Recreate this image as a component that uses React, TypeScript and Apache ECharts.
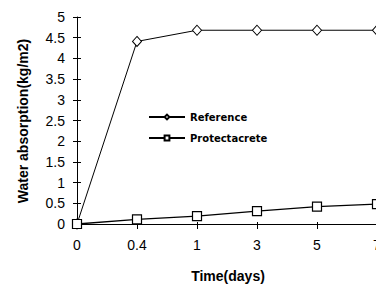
import React, { useEffect, useRef } from "react";
import * as echarts from "echarts";

const categories = ["0", "0.4", "1", "3", "5", "7"];
const referenceValues = [0, 4.41, 4.68, 4.68, 4.68, 4.68];
const protectacreteValues = [0, 0.11, 0.19, 0.31, 0.42, 0.48];
const seriesNames = ["Reference", "Protectacrete"];
const xTitle = "Time(days)";
const yTitle = "Water absorption(kg/m2)";

export default function App() {
  const ref = useRef<HTMLDivElement>(null);
  useEffect(() => {
    const chart = echarts.init(ref.current!, null, { renderer: "svg" });
    const font = "Liberation Sans, Arial, sans-serif";
    const axisLineStyle = { color: "#000", width: 1 };
    chart.setOption({
      animation: false,
      backgroundColor: "#fff",
      grid: { left: 77, top: 17, bottom: 61, right: -1, containLabel: false, outerBoundsMode: "none" },
      legend: {
        orient: "vertical",
        left: 143,
        top: 107,
        itemWidth: 36,
        itemHeight: 6,
        itemGap: 11,
        data: seriesNames,
        textStyle: { fontFamily: "DejaVu Sans", fontWeight: "bold", fontSize: 10, color: "#000" },
      },
      xAxis: [
        {
          type: "category",
          data: categories,
          boundaryGap: false,
          axisLine: { lineStyle: axisLineStyle },
          axisTick: { show: true, length: 5, lineStyle: axisLineStyle, alignWithLabel: true },
          axisLabel: { color: "#000", fontSize: 14, fontFamily: font, margin: 14 },
          splitLine: { show: false },
        },
        {
          type: "category",
          data: categories,
          boundaryGap: false,
          position: "bottom",
          axisLine: { show: false },
          axisTick: { show: true, inside: true, length: 2, lineStyle: axisLineStyle },
          axisLabel: { show: false },
          splitLine: { show: false },
        },
      ],
      yAxis: [
        {
          type: "value",
          min: 0,
          max: 5,
          interval: 0.5,
          axisLine: { show: true, lineStyle: axisLineStyle },
          axisTick: { show: true, length: 4, lineStyle: axisLineStyle },
          axisLabel: { color: "#000", fontSize: 14, fontFamily: font, margin: 12 },
          splitLine: { show: false },
        },
        {
          type: "value",
          min: 0,
          max: 5,
          interval: 0.5,
          position: "left",
          axisLine: { show: false },
          axisTick: { show: true, inside: true, length: 4, lineStyle: axisLineStyle },
          axisLabel: { show: false },
          splitLine: { show: false },
        },
      ],
      series: [
        {
          name: seriesNames[0],
          type: "line",
          data: referenceValues,
          xAxisIndex: 0,
          yAxisIndex: 0,
          symbol: "diamond",
          symbolSize: [9, 10],
          itemStyle: { color: "#fff", borderColor: "#000", borderWidth: 1 },
          lineStyle: { color: "#000", width: 1 },
          z: 3,
        },
        {
          name: seriesNames[1],
          type: "line",
          data: protectacreteValues,
          xAxisIndex: 0,
          yAxisIndex: 0,
          symbol: "rect",
          symbolSize: 9,
          itemStyle: { color: "#fff", borderColor: "#000", borderWidth: 1.2 },
          lineStyle: { color: "#000", width: 1.3 },
          z: 4,
        },
      ],
      graphic: [
        {
          type: "text",
          x: 23,
          y: 121,
          rotation: Math.PI / 2,
          style: {
            text: yTitle,
            fontSize: 14,
            fontWeight: "bold",
            fontFamily: font,
            fill: "#000",
            align: "center",
            verticalAlign: "middle",
          },
        },
        {
          type: "text",
          x: 228,
          y: 276,
          style: {
            text: xTitle,
            fontSize: 14,
            fontWeight: "bold",
            fontFamily: font,
            fill: "#000",
            align: "center",
            verticalAlign: "middle",
          },
        },
      ],
    });
    return () => chart.dispose();
  }, []);
  return <div ref={ref} style={{ width: 376, height: 285, position: "fixed", left: 0, top: 0 }} />;
}
